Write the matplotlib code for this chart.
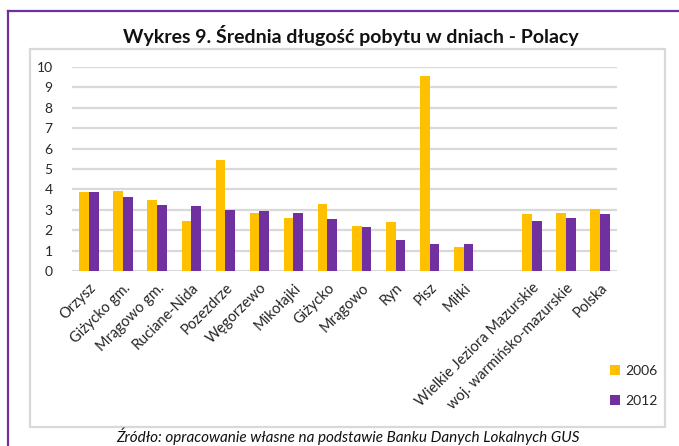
import matplotlib
matplotlib.use("Agg")
import matplotlib.pyplot as plt
from matplotlib.lines import Line2D
from matplotlib.patches import Rectangle
import numpy as np

plt.rcParams['font.family'] = ['Lato', 'DejaVu Sans']

# data
categories = ['Orzysz', 'Giżycko gm.', 'Mrągowo gm.', 'Ruciane-Nida', 'Pozezdrze',
              'Węgorzewo', 'Mikołajki', 'Giżycko', 'Mrągowo', 'Ryn', 'Pisz', 'Miłki',
              '', 'Wielkie Jeziora Mazurskie', 'woj. warmińsko-mazurskie', 'Polska']
values_2006 = [3.86, 3.93, 3.49, 2.47, 5.45, 2.85, 2.60, 3.29, 2.23, 2.41, 9.54, 1.19,
               np.nan, 2.78, 2.85, 3.03]
values_2012 = [3.86, 3.62, 3.24, 3.18, 2.98, 2.93, 2.85, 2.54, 2.14, 1.52, 1.34, 1.34,
               np.nan, 2.47, 2.59, 2.78]
series_labels = ['2006', '2012']
yticks = list(range(0, 11))

YELLOW = '#FFC000'
PURPLE = '#7030A0'
GRID = '#D9D9D9'

W, H = 679, 446
fig = plt.figure(figsize=(W / 100, H / 100), dpi=100)

# outer purple frame (top and left only)
fig.add_artist(Line2D([8 / W, 1], [1 - 11 / H, 1 - 11 / H], color=PURPLE, lw=1.6))
fig.add_artist(Line2D([8 / W, 8 / W], [0, 1 - 11 / H], color=PURPLE, lw=1.6))
# grey chart frame
fig.add_artist(Rectangle((30 / W, 1 - 427 / H), 635 / W, 378 / H, fill=False,
                         edgecolor=GRID, lw=1.6, zorder=0))

ax = fig.add_axes([72 / W, 1 - 271 / H, 545 / W, 204 / H])
x = np.arange(len(categories))
bw = 0.285
ax.bar(x - bw / 2, values_2006, bw, color=YELLOW, label=series_labels[0], zorder=3)
ax.bar(x + bw / 2, values_2012, bw, color=PURPLE, label=series_labels[1], zorder=3)

ax.set_xlim(-0.5, len(categories) - 0.5)
ax.set_ylim(0, 10)
ax.set_yticks(yticks)
ax.yaxis.grid(True, color=GRID, lw=1.6, zorder=0)
ax.set_axisbelow(True)
for s in ax.spines.values():
    s.set_visible(False)
ax.tick_params(length=0, labelsize=10, colors='#262626')
ax.tick_params(axis='y', pad=14)
ax.set_xticks(x)
ax.set_xticklabels(categories, rotation=45, ha='right', rotation_mode='anchor',
                   fontsize=10.5)
ax.tick_params(axis='x', pad=7)

fig.text(351 / W, 1 - 35 / H, 'Wykres 9. Średnia długość pobytu w dniach - Polacy',
         ha='center', va='center', fontsize=14, fontweight='bold', color='#111111')

leg = fig.legend(loc='upper left', bbox_to_anchor=(603 / W, 1 - 358 / H),
                 frameon=False, fontsize=10,
                 handlelength=0.7, handleheight=0.7, handletextpad=0.4,
                 labelspacing=1.3, borderpad=0, labelcolor='#262626')
leg.set_zorder(5)

fig.text(348 / W, 1 / H, 'Źródło: opracowanie własne na podstawie Banku Danych Lokalnych GUS',
         ha='center', va='bottom', fontsize=11, style='italic', color='#111111')

fig.savefig('out.png', dpi=100)
